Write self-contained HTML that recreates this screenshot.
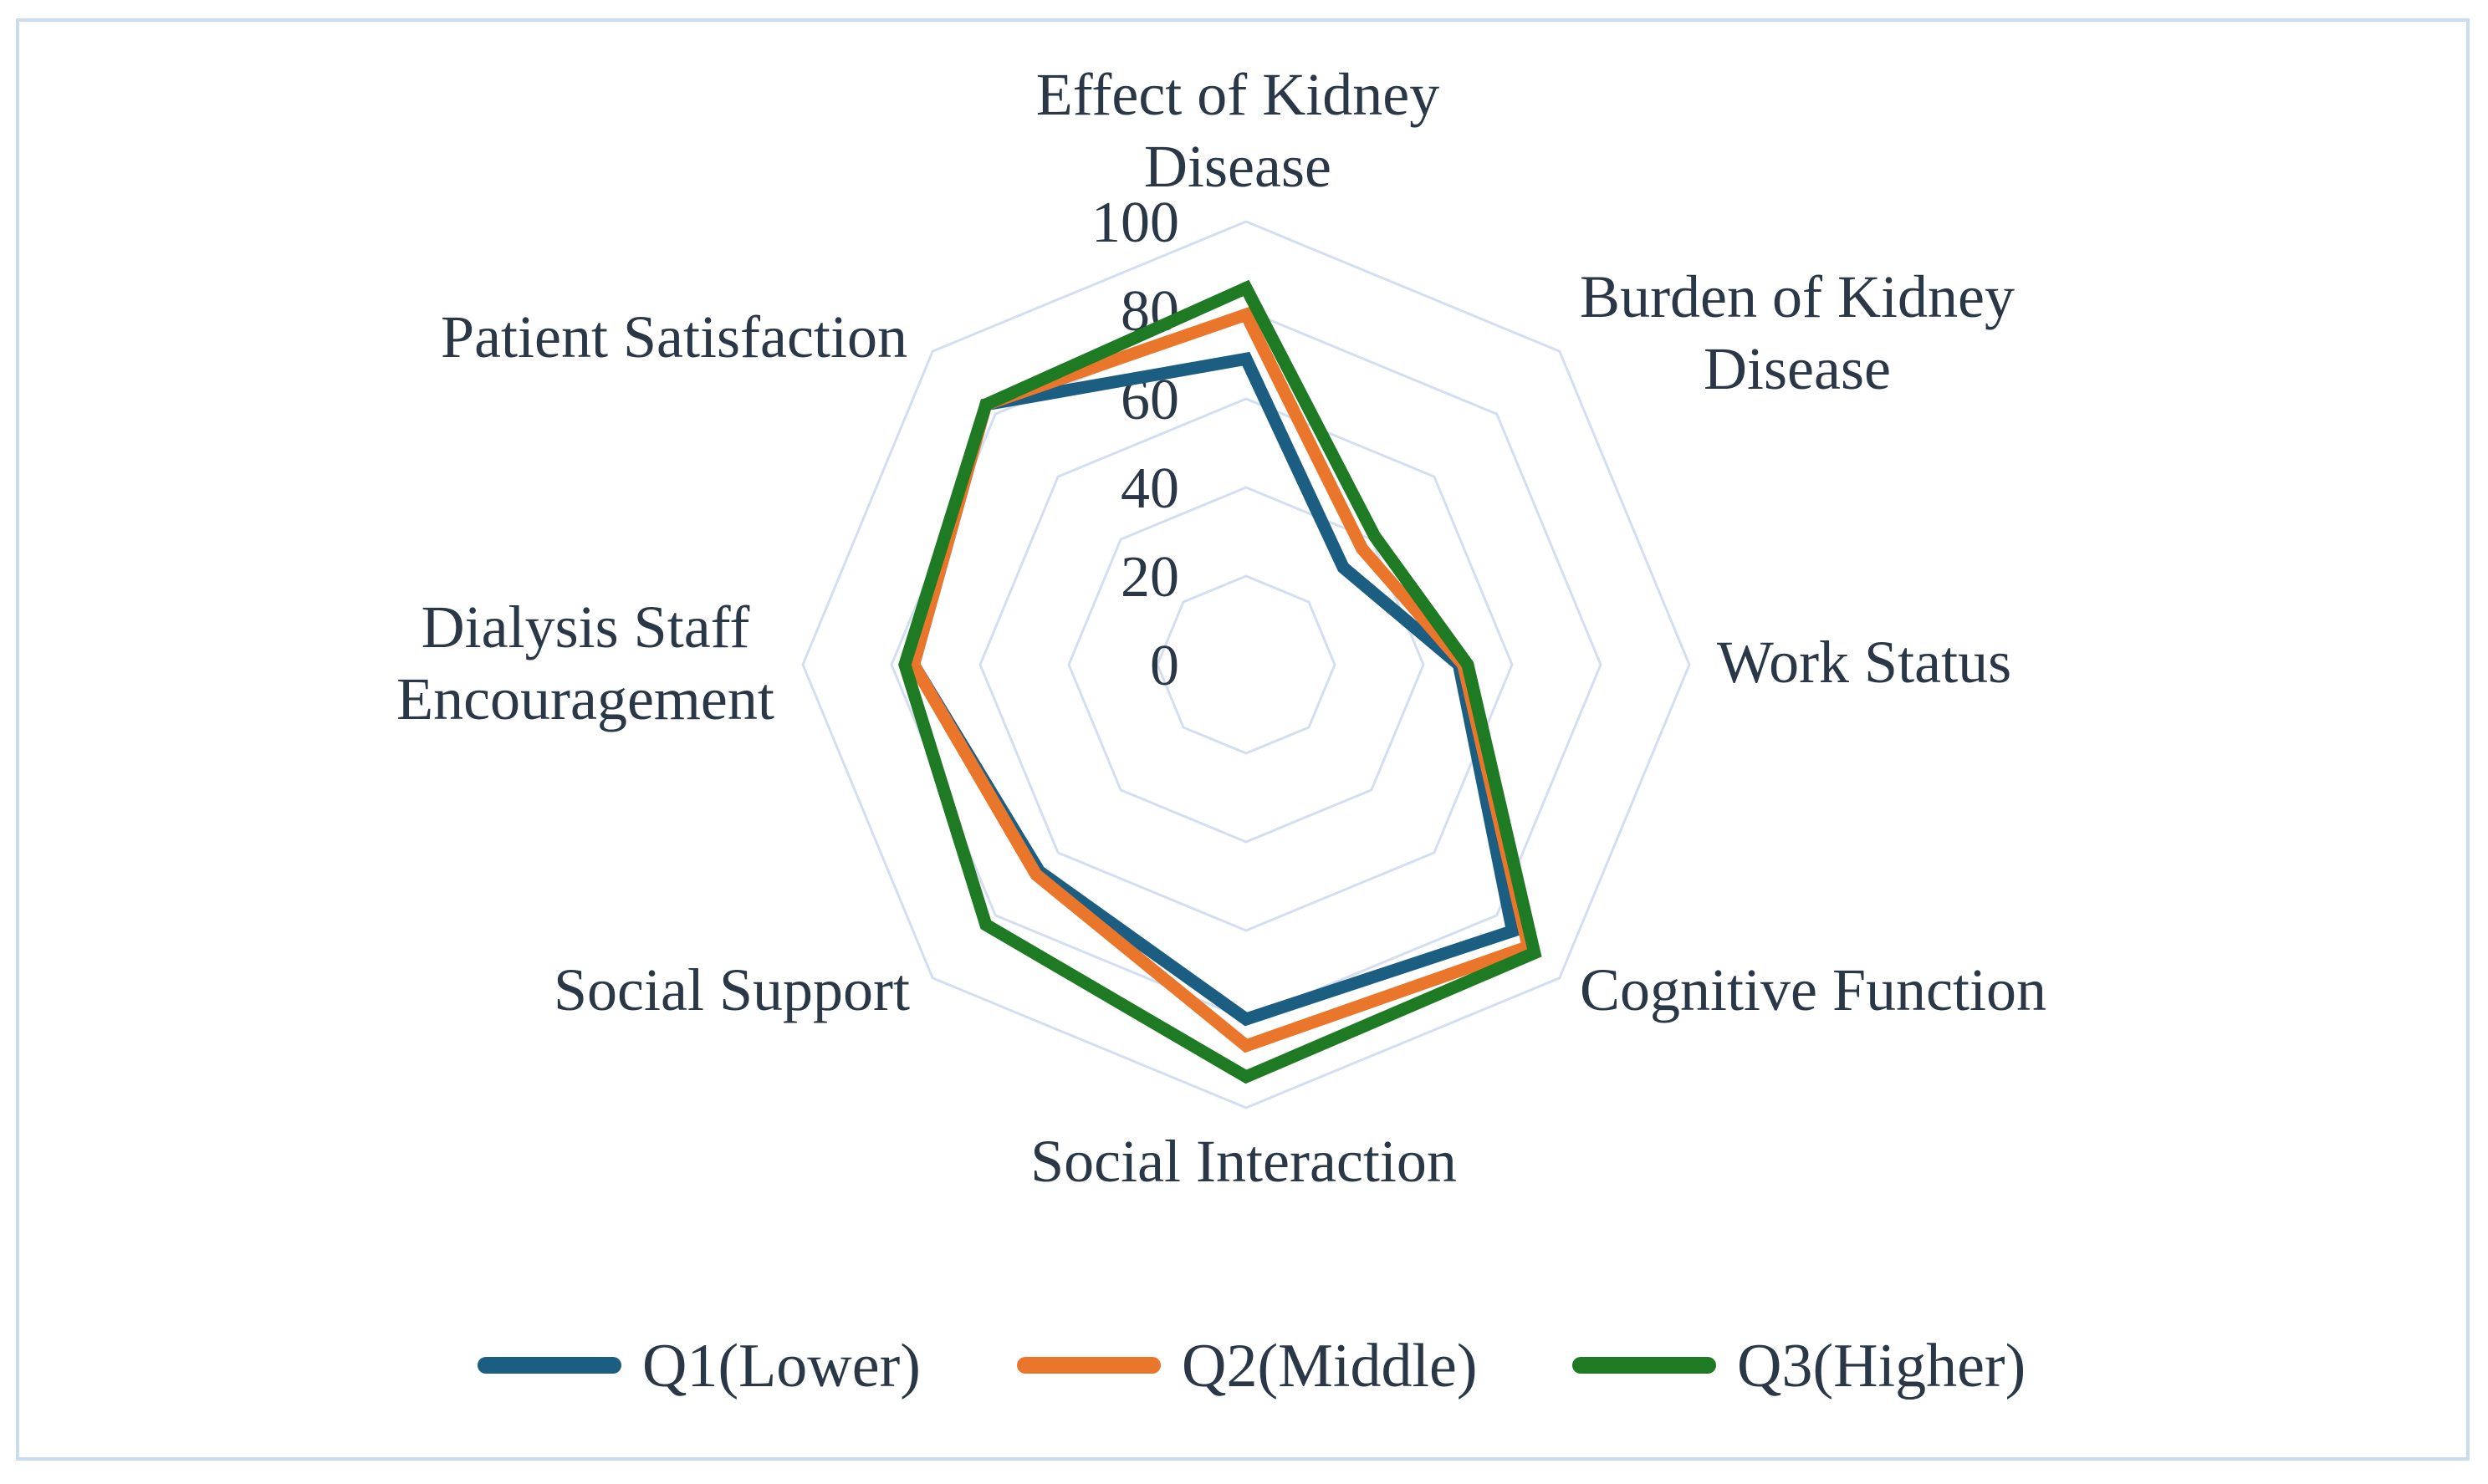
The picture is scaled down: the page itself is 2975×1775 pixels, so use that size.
<!DOCTYPE html>
<html><head><meta charset="utf-8"><style>
html,body{margin:0;padding:0;background:#fff;}
svg{display:block;}
text{font-family:"Liberation Serif",serif;fill:#2a3747;}
</style></head><body>
<svg id="chart" width="2975" height="1775" viewBox="0 0 2975 1775">
<rect x="21" y="24" width="2930" height="1721" fill="#fff" stroke="#c9dbef" stroke-width="4"/>
<g id="grid"></g>
<g id="ticks"></g>
<g id="series"></g>
<g id="labels"></g>
<g id="legend"></g>
</svg>
<script>
const categories = ["Effect of Kidney|Disease","Burden of Kidney|Disease","Work Status","Cognitive Function","Social Interaction","Social Support","Dialysis Staff|Encouragement","Patient Satisfaction"];
const q1Values = [69, 31, 48, 85, 80, 66, 75, 83];
const q2Values = [79, 37, 49, 90, 86, 67, 75, 83];
const q3Values = [85, 41, 50, 92, 93, 83, 77, 83];
const seriesNames = ["Q1(Lower)","Q2(Middle)","Q3(Higher)"];
const tickValues = [0, 20, 40, 60, 80, 100];

const NS="http://www.w3.org/2000/svg";
const cx=1490, cy=795, R=530, maxV=100;
const colors=["#1b5e82","#ea762c","#1f7a24"];
const n=categories.length;
function ang(i){return -Math.PI/2 + i*2*Math.PI/n;}
function px(i,v){return cx + Math.cos(ang(i))*v/maxV*R;}
function py(i,v){return cy + Math.sin(ang(i))*v/maxV*R;}
function mk(tag,attrs,parent){const e=document.createElementNS(NS,tag);for(const k in attrs)e.setAttribute(k,attrs[k]);parent.appendChild(e);return e;}

const grid=document.getElementById('grid');
tickValues.forEach(t=>{
  if(t===0)return;
  let pts=[];for(let i=0;i<n;i++)pts.push(px(i,t).toFixed(1)+","+py(i,t).toFixed(1));
  const p=mk('polygon',{points:pts.join(' '),fill:'none',stroke:'#d3def0','stroke-width':3},grid);
  
  
});

const ticks=document.getElementById('ticks');
tickValues.forEach(t=>{
  const tx=mk('text',{x:1410,y:cy - t/maxV*R + 24,'text-anchor':'end','font-size':70},ticks);
  tx.textContent=t;
  
  
});

const series=document.getElementById('series');
[q1Values,q2Values,q3Values].forEach((vals,s)=>{
  let pts=vals.map((v,i)=>px(i,v).toFixed(1)+","+py(i,v).toFixed(1));
  const p=mk('polygon',{points:pts.join(' '),fill:'none',stroke:colors[s],'stroke-width':15,'stroke-linejoin':'miter'},series);
  
  
});

const labelPos=[[1480,137,'middle'],[2149,379,'middle'],[2229,816,'middle'],[2168,1208,'middle'],[1487,1413,'middle'],[875,1208,'middle'],[700,774,'middle'],[806,427,'middle']];
const labels=document.getElementById('labels');
categories.forEach((c,i)=>{
  const lines=c.split('|');
  const [x,y,a]=labelPos[i];
  const t=mk('text',{x:x,y:y,'text-anchor':a,'font-size':72},labels);
  lines.forEach((ln,j)=>{const ts=mk('tspan',{x:x,dy:j?86:0},t);ts.textContent=ln;});
  
  
});

const legend=document.getElementById('legend');
const legX=[571,1216,1880];
seriesNames.forEach((nm,s)=>{
  const g=mk('g',{},legend);
  
  
  mk('line',{x1:legX[s]+10,y1:1633,x2:legX[s]+162,y2:1633,stroke:colors[s],'stroke-width':20,'stroke-linecap':'round'},g);
  const t=mk('text',{x:legX[s]+197,y:1658,'font-size':74},g);
  t.textContent=nm;
});
</script>
</body></html>
